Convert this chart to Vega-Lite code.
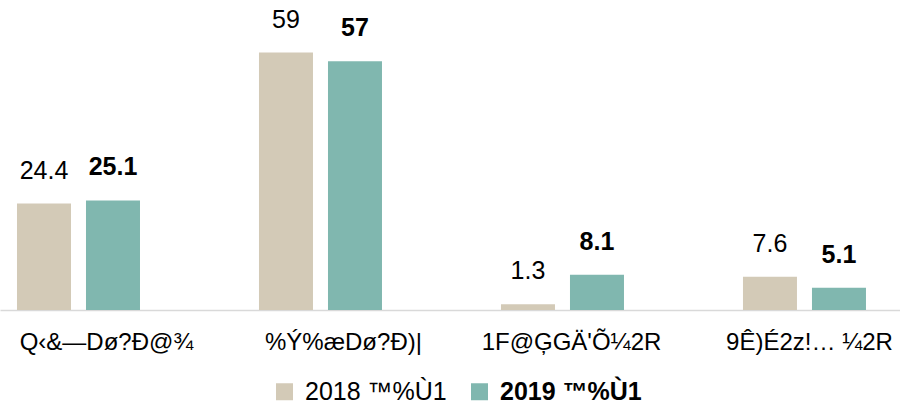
{
  "$schema": "https://vega.github.io/schema/vega-lite/v6.json",
  "width": 900,
  "height": 310,
  "padding": {"left": 0, "top": 0, "right": 0, "bottom": 94},
  "autosize": "none",
  "background": "white",
  "config": {"view": {"stroke": null}, "font": "Liberation Sans"},
  "data": {"values": [
    {"cat": "Q‹&—Dø?Ð@¾", "series": "2018 ™%Ù1", "value": 24.4},
    {"cat": "Q‹&—Dø?Ð@¾", "series": "2019 ™%Ù1", "value": 25.1},
    {"cat": "%Ý%æDø?Ð)|", "series": "2018 ™%Ù1", "value": 59},
    {"cat": "%Ý%æDø?Ð)|", "series": "2019 ™%Ù1", "value": 57},
    {"cat": "1F@ĢGÄ'Õ¼2R", "series": "2018 ™%Ù1", "value": 1.3},
    {"cat": "1F@ĢGÄ'Õ¼2R", "series": "2019 ™%Ù1", "value": 8.1},
    {"cat": "9Ê)É2z!… ¼2R", "series": "2018 ™%Ù1", "value": 7.6},
    {"cat": "9Ê)É2z!… ¼2R", "series": "2019 ™%Ù1", "value": 5.1}
  ]},
  "encoding": {
    "x": {
      "field": "cat", "type": "nominal", "sort": null,
      "scale": {"paddingInner": 0.4917, "paddingOuter": 0.1054, "align": 0.333},
      "axis": {
        "title": null, "labelAngle": 0, "labelFontSize": 24, "labelColor": "#000000",
        "labelBaseline": "alphabetic", "labelPadding": 39, "ticks": false,
        "domainColor": "#D9D9D9", "domainWidth": 1.5, "grid": false,
        "labelOffset": {
          "condition": [
            {"test": "datum.index < 0.1", "value": 28},
            {"test": "datum.index < 0.5", "value": 23},
            {"test": "datum.index < 0.9", "value": 9}
          ],
          "value": 5
        }
      }
    },
    "xOffset": {"field": "series", "type": "nominal", "scale": {"paddingInner": 0.2174, "paddingOuter": 0}},
    "y": {"field": "value", "type": "quantitative", "scale": {"domain": [0, 71.05], "nice": false, "zero": true}, "axis": null}
  },
  "layer": [
    {
      "mark": {"type": "bar"},
      "encoding": {
        "color": {
          "field": "series", "type": "nominal",
          "scale": {"domain": ["2018 ™%Ù1", "2019 ™%Ù1"], "range": ["#D3CAB7", "#80B7AF"]},
          "legend": {
            "title": null, "orient": "none", "legendX": 272, "legendY": 379, "direction": "horizontal",
            "padding": 0,
            "symbolType": "square", "symbolSize": 289, "symbolStrokeWidth": 0,
            "labelFontSize": 25, "labelColor": "#000000", "labelOffset": 8,
            "columnPadding": 20,
            "encode": {"labels": {"update": {"fontWeight": {"signal": "datum.value === '2019 ™%Ù1' ? 'bold' : 'normal'"}}}}
          }
        }
      }
    },
    {
      "transform": [{"filter": "datum.series === '2018 ™%Ù1'"}],
      "mark": {"type": "text", "baseline": "alphabetic", "dy": -25, "fontSize": 25, "color": "#000000"},
      "encoding": {"text": {"field": "value", "type": "quantitative"}}
    },
    {
      "transform": [{"filter": "datum.series === '2019 ™%Ù1'"}],
      "mark": {"type": "text", "baseline": "alphabetic", "dy": -25, "fontSize": 25, "fontWeight": "bold", "color": "#000000"},
      "encoding": {"text": {"field": "value", "type": "quantitative"}}
    }
  ]
}
